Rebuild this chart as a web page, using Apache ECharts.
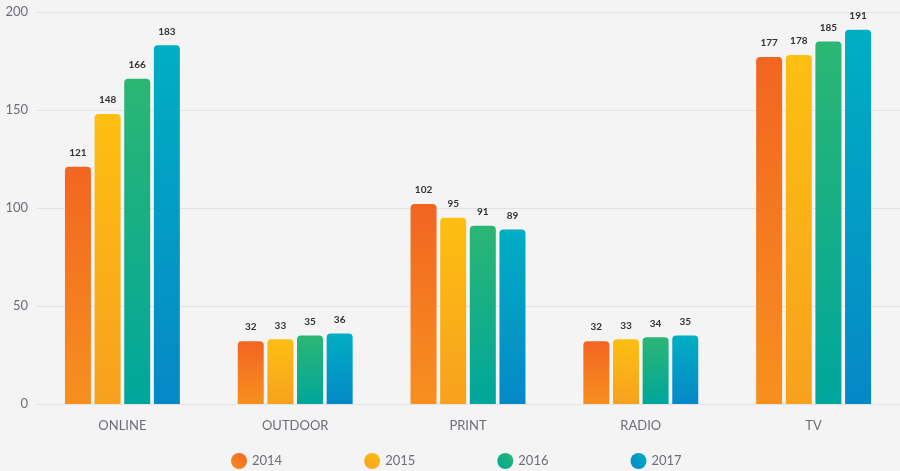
<!DOCTYPE html>
<html><head><meta charset="utf-8">
<script src="https://cdn.jsdelivr.net/npm/echarts@6/dist/echarts.min.js"></script>
<style>html,body{margin:0;padding:0;background:#f4f4f4;}#c{width:900px;height:471px;}</style>
</head><body><div id="c"></div>
<script>
const categories = ['ONLINE','OUTDOOR','PRINT','RADIO','TV'];
const years = ['2014','2015','2016','2017'];
const v2014 = [121, 32, 102, 32, 177];
const v2015 = [148, 33, 95, 33, 178];
const v2016 = [166, 35, 91, 34, 185];
const v2017 = [183, 36, 89, 35, 191];
const yTicks = [0, 50, 100, 150, 200];
const values = [v2014, v2015, v2016, v2017];
const grads = [
  ['#f26522', '#f7901f'],
  ['#fdbf12', '#f7a11e'],
  ['#2bb673', '#00a69c'],
  ['#00aec2', '#0688c7']
];
const lin = (c) => new echarts.graphic.LinearGradient(0,0,0,1,[{offset:0,color:c[0]},{offset:1,color:c[1]}]);
const legGrad = (c) => new echarts.graphic.LinearGradient(1,0,0,1,[{offset:0,color:c[0]},{offset:1,color:c[1]}]);
const chart = echarts.init(document.getElementById('c'));
chart.setOption({
  backgroundColor: '#f4f4f4',
  textStyle: {fontFamily: 'Lato, sans-serif'},
  grid: {left: 36, right: -8, top: 12, bottom: 67},
  legend: {
    bottom: -3, left: 226,
    itemGap: 82, itemWidth: 16, itemHeight: 16,
    icon: 'circle',
    textStyle: {color: '#6b6e78', fontSize: 13, fontFamily: 'Lato, sans-serif'},
    data: years.map((y,i)=>({name:y, itemStyle:{color: legGrad(grads[i])}}))
  },
  xAxis: {
    type: 'category', data: categories,
    axisLine: {show: false}, axisTick: {show: false},
    axisLabel: {color: '#6b6e78', fontSize: 13, margin: 15}
  },
  yAxis: {
    type: 'value', min: 0, max: 200, interval: 50,
    axisLabel: {color: '#6b6e78', fontSize: 13, margin: 8,
      formatter: (v)=> yTicks.includes(v) ? String(v) : ''},
    splitLine: {lineStyle: {color: '#e2e2e2', width: 1}},
    axisLine: {show: false}, axisTick: {show: false}
  },
  series: years.map((y,i)=>({
    name: y, type: 'bar', data: values[i],
    barWidth: 26, barGap: '14%',
    itemStyle: {color: lin(grads[i]), borderRadius: [4,4,0,0]},
    label: {show: true, position: 'top', distance: 9, color: '#333', fontSize: 10, fontWeight: 'bold'}
  }))
});
</script></body></html>
